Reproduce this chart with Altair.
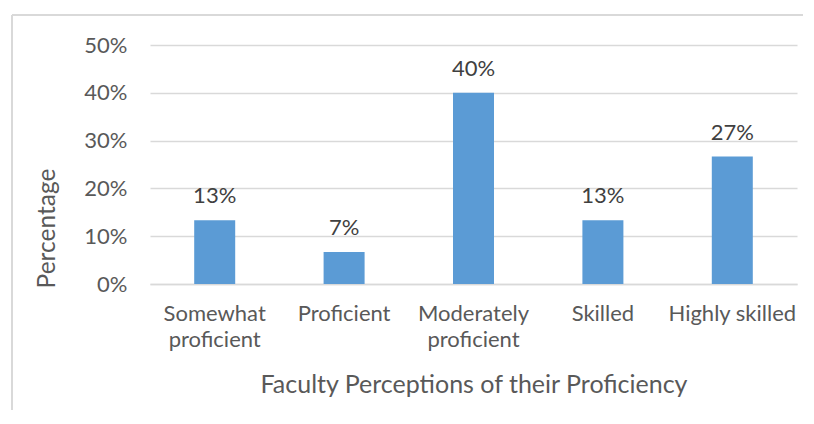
import altair as alt
import pandas as pd

categories = ["Somewhat proficient", "Proficient", "Moderately proficient", "Skilled", "Highly skilled"]
values = [0.1333, 0.0667, 0.40, 0.1333, 0.2667]

df = pd.DataFrame({"category": categories, "value": values})

FONT = "Lato"
GRAY = "#595959"

x = alt.X(
    "category:N",
    sort=categories,
    scale=alt.Scale(paddingInner=0, paddingOuter=0),
    axis=alt.Axis(
        title="Faculty Perceptions of their Proficiency",
        labelAngle=0,
        labelExpr="datum.label == 'Highly skilled' ? datum.label : split(datum.label, ' ')",
        labelFont=FONT, labelFontSize=22, labelColor=GRAY, labelLineHeight=26,
        labelPadding=19, ticks=False, domainColor="#d9d9d9", domainWidth=1.5,
        titleFont=FONT, titleFontSize=25, titleColor=GRAY, titleFontWeight="normal",
        titleY=100, titleBaseline="middle",
    ),
)
y = alt.Y(
    "value:Q",
    scale=alt.Scale(domain=[0, 0.5]),
    axis=alt.Axis(
        title="Percentage", format=".0%", values=[0, 0.1, 0.2, 0.3, 0.4, 0.5],
        labelFont=FONT, labelFontSize=22, labelColor=GRAY, labelPadding=23,
        ticks=False, domain=False, gridColor="#d9d9d9", gridWidth=1.5,
        titleFont=FONT, titleFontSize=24.5, titleColor=GRAY, titleFontWeight="normal",
        titleAngle=-90, titleX=-103, titleY=183, titleAlign="center", titleBaseline="middle",
    ),
)

base = alt.Chart(df)
bars = base.mark_bar(size=41, color="#5B9BD5").encode(x=x, y=y)
labels = base.mark_text(font=FONT, fontSize=22, color="#404040", baseline="alphabetic", dy=-17).encode(
    x=alt.X("category:N", sort=categories),
    y="value:Q",
    text=alt.Text("value:Q", format=".0%"),
)
top_line = alt.Chart(df).mark_rule(stroke="#d9d9d9", strokeWidth=2).encode(
    x=alt.value(-138), x2=alt.value(760), y=alt.value(-30)
)
left_line = alt.Chart(df).mark_rule(stroke="#d9d9d9", strokeWidth=2).encode(
    x=alt.value(-138), y=alt.value(-30), y2=alt.value(500)
)

chart = alt.layer(top_line, left_line, bars, labels).properties(
    width=647, height=239,
    autosize=alt.AutoSizeParams(type="none"),
    padding={"left": 142, "top": 37, "right": 6, "bottom": 126},
).configure_view(stroke=None)

chart.save("out.html", embed_options={"renderer": "svg", "actions": False})
